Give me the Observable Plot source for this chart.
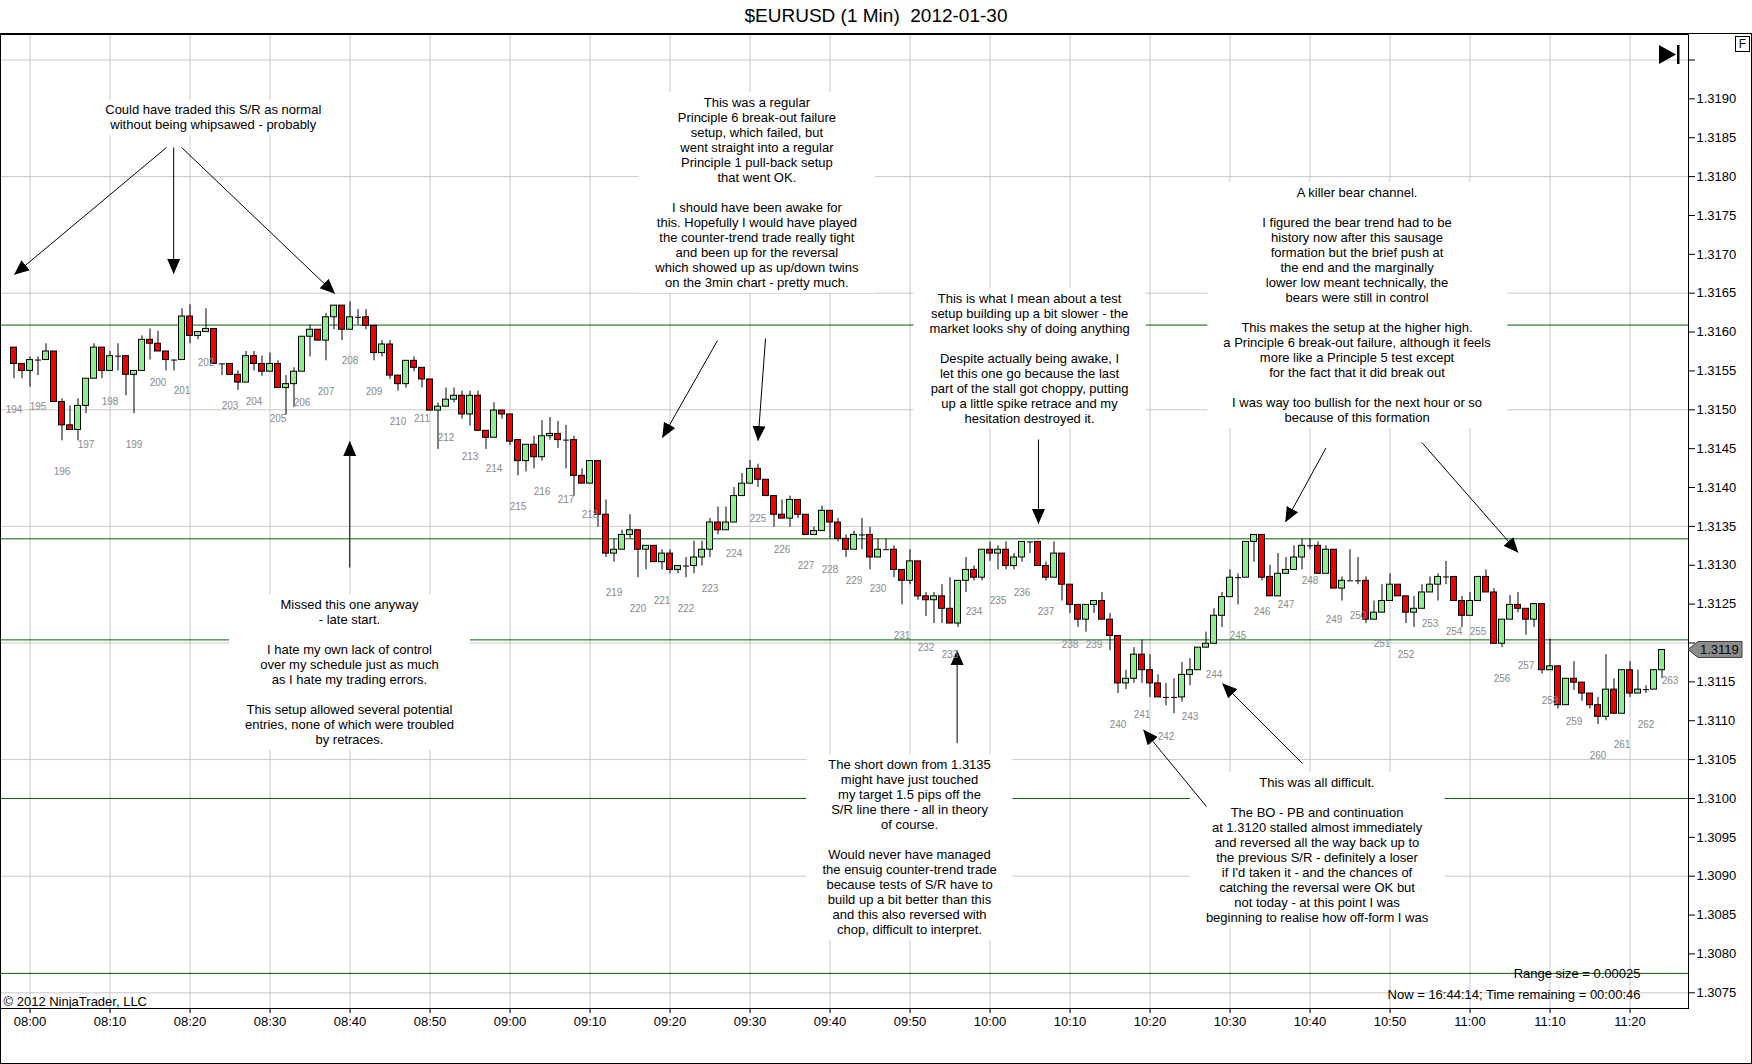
<!DOCTYPE html>
<html>
<head>
<meta charset="utf-8">
<script src="https://cdn.jsdelivr.net/npm/d3@7"></script>
<script src="https://cdn.jsdelivr.net/npm/@observablehq/plot@0.6"></script>
<style>
html,body{margin:0;padding:0;background:#fff;}
#wrap{position:relative;width:1752px;height:1064px;overflow:hidden;font-family:'Liberation Sans',Arial,Helvetica,sans-serif;}
#title{position:absolute;left:0;top:0;width:1752px;height:33px;line-height:32px;text-align:center;font-size:19px;color:#000;white-space:pre;}
#chart{position:absolute;left:0;top:33px;}
#border{position:absolute;left:0;top:33px;width:1752px;height:1031px;box-sizing:border-box;border:1px solid #000;pointer-events:none;}
</style>
</head>
<body>
<div id="wrap">
  <div id="title"></div>
  <div id="chart"></div>
  <div id="border"></div>
</div>
<script>
const titleText = "$EURUSD (1 Min)  2012-01-30";

// one-minute bars, index 0 = 07:58
const open = [
1.31580,1.31559,1.31550,1.31564,1.31564,1.31575,1.31510,1.31480,1.31474,1.31505,
1.31540,1.31580,1.31550,1.31569,1.31569,1.31545,1.31550,1.31590,1.31585,1.31575,
1.31564,1.31564,1.31620,1.31595,1.31600,1.31604,1.31559,1.31559,1.31545,1.31535,
1.31569,1.31559,1.31549,1.31559,1.31528,1.31533,1.31549,1.31594,1.31603,1.31589,
1.31619,1.31634,1.31603,1.31619,1.31619,1.31608,1.31573,1.31584,1.31544,1.31533,
1.31563,1.31554,1.31539,1.31499,1.31504,1.31513,1.31518,1.31494,1.31518,1.31473,
1.31464,1.31499,1.31494,1.31461,1.31434,1.31455,1.31439,1.31466,1.31469,1.31461,
1.31461,1.31415,1.31405,1.31434,1.31365,1.31315,1.31320,1.31339,1.31345,1.31320,
1.31325,1.31304,1.31315,1.31294,1.31299,1.31299,1.31310,1.31320,1.31355,1.31345,
1.31355,1.31389,1.31405,1.31424,1.31410,1.31389,1.31365,1.31360,1.31384,1.31365,
1.31339,1.31344,1.31370,1.31355,1.31334,1.31320,1.31339,1.31339,1.31310,1.31320,
1.31320,1.31294,1.31280,1.31305,1.31260,1.31255,1.31260,1.31244,1.31225,1.31280,
1.31294,1.31284,1.31320,1.31315,1.31320,1.31299,1.31310,1.31330,1.31330,1.31299,
1.31284,1.31315,1.31275,1.31249,1.31230,1.31249,1.31254,1.31230,1.31209,1.31148,
1.31154,1.31185,1.31165,1.31148,1.31130,1.31130,1.31130,1.31159,1.31165,1.31194,
1.31199,1.31235,1.31259,1.31284,1.31284,1.31330,1.31339,1.31285,1.31260,1.31289,
1.31294,1.31310,1.31325,1.31325,1.31289,1.31320,1.31270,1.31280,1.31280,1.31280,
1.31230,1.31239,1.31254,1.31275,1.31260,1.31239,1.31244,1.31265,1.31275,1.31285,
1.31285,1.31254,1.31235,1.31254,1.31285,1.31265,1.31199,1.31230,1.31249,1.31244,
1.31230,1.31250,1.31165,1.31170,1.31120,1.31154,1.31149,1.31135,1.31120,1.31105,
1.31140,1.31109,1.31165,1.31135,1.31140,1.31140,1.31165];
const high = [
1.31580,1.31559,1.31568,1.31568,1.31585,1.31575,1.31514,1.31505,1.31514,1.31540,
1.31585,1.31580,1.31575,1.31585,1.31569,1.31550,1.31595,1.31604,1.31601,1.31575,
1.31564,1.31630,1.31635,1.31600,1.31630,1.31604,1.31559,1.31559,1.31550,1.31575,
1.31575,1.31569,1.31573,1.31563,1.31544,1.31554,1.31594,1.31609,1.31603,1.31624,
1.31634,1.31634,1.31639,1.31629,1.31629,1.31608,1.31589,1.31589,1.31544,1.31563,
1.31568,1.31554,1.31539,1.31509,1.31528,1.31528,1.31524,1.31524,1.31524,1.31473,
1.31509,1.31499,1.31494,1.31461,1.31455,1.31466,1.31486,1.31490,1.31485,1.31480,
1.31466,1.31424,1.31434,1.31434,1.31384,1.31334,1.31345,1.31365,1.31345,1.31325,
1.31325,1.31320,1.31320,1.31299,1.31310,1.31331,1.31331,1.31360,1.31375,1.31375,
1.31400,1.31418,1.31435,1.31430,1.31410,1.31389,1.31384,1.31389,1.31384,1.31365,
1.31349,1.31376,1.31370,1.31360,1.31339,1.31344,1.31360,1.31349,1.31334,1.31334,
1.31325,1.31294,1.31320,1.31305,1.31265,1.31265,1.31275,1.31284,1.31280,1.31310,
1.31299,1.31320,1.31330,1.31325,1.31330,1.31315,1.31330,1.31330,1.31330,1.31304,
1.31330,1.31315,1.31275,1.31249,1.31249,1.31254,1.31265,1.31238,1.31209,1.31165,
1.31194,1.31204,1.31185,1.31159,1.31148,1.31154,1.31175,1.31180,1.31194,1.31214,
1.31244,1.31265,1.31294,1.31289,1.31330,1.31339,1.31339,1.31300,1.31315,1.31310,
1.31325,1.31334,1.31334,1.31330,1.31325,1.31320,1.31285,1.31320,1.31310,1.31285,
1.31254,1.31275,1.31289,1.31275,1.31260,1.31260,1.31275,1.31285,1.31289,1.31305,
1.31285,1.31260,1.31265,1.31285,1.31294,1.31270,1.31230,1.31261,1.31265,1.31244,
1.31250,1.31250,1.31205,1.31170,1.31154,1.31176,1.31149,1.31135,1.31130,1.31185,
1.31154,1.31165,1.31176,1.31165,1.31145,1.31165,1.31191];
const low = [
1.31540,1.31540,1.31529,1.31544,1.31564,1.31510,1.31460,1.31474,1.31460,1.31495,
1.31540,1.31540,1.31550,1.31550,1.31518,1.31495,1.31550,1.31564,1.31575,1.31550,
1.31550,1.31564,1.31585,1.31590,1.31600,1.31559,1.31544,1.31545,1.31525,1.31535,
1.31550,1.31543,1.31549,1.31528,1.31493,1.31503,1.31549,1.31568,1.31589,1.31563,
1.31603,1.31589,1.31603,1.31609,1.31603,1.31563,1.31568,1.31539,1.31524,1.31528,
1.31549,1.31528,1.31499,1.31449,1.31504,1.31509,1.31488,1.31479,1.31473,1.31449,
1.31464,1.31488,1.31454,1.31415,1.31420,1.31424,1.31434,1.31461,1.31450,1.31424,
1.31389,1.31405,1.31405,1.31349,1.31310,1.31304,1.31320,1.31334,1.31284,1.31294,
1.31304,1.31294,1.31289,1.31289,1.31284,1.31289,1.31299,1.31310,1.31339,1.31345,
1.31355,1.31389,1.31405,1.31400,1.31389,1.31349,1.31360,1.31349,1.31360,1.31339,
1.31339,1.31344,1.31334,1.31330,1.31310,1.31320,1.31320,1.31294,1.31310,1.31320,
1.31284,1.31249,1.31275,1.31255,1.31234,1.31225,1.31225,1.31225,1.31220,1.31265,
1.31280,1.31280,1.31305,1.31294,1.31294,1.31294,1.31304,1.31315,1.31299,1.31280,
1.31284,1.31254,1.31238,1.31220,1.31214,1.31238,1.31230,1.31190,1.31135,1.31140,
1.31148,1.31148,1.31130,1.31130,1.31119,1.31109,1.31124,1.31145,1.31165,1.31194,
1.31199,1.31220,1.31259,1.31249,1.31284,1.31304,1.31280,1.31260,1.31260,1.31289,
1.31294,1.31294,1.31320,1.31289,1.31289,1.31270,1.31254,1.31280,1.31275,1.31225,
1.31230,1.31239,1.31254,1.31260,1.31225,1.31220,1.31244,1.31265,1.31254,1.31275,
1.31254,1.31220,1.31235,1.31254,1.31265,1.31199,1.31194,1.31230,1.31239,1.31210,
1.31220,1.31160,1.31165,1.31115,1.31120,1.31139,1.31125,1.31115,1.31095,1.31100,
1.31109,1.31109,1.31130,1.31135,1.31135,1.31140,1.31154];
const close = [
1.31559,1.31550,1.31564,1.31564,1.31575,1.31510,1.31480,1.31474,1.31505,1.31540,
1.31580,1.31550,1.31569,1.31569,1.31545,1.31550,1.31590,1.31585,1.31575,1.31564,
1.31564,1.31620,1.31595,1.31600,1.31604,1.31559,1.31559,1.31545,1.31535,1.31569,
1.31559,1.31549,1.31559,1.31528,1.31533,1.31549,1.31594,1.31603,1.31589,1.31619,
1.31634,1.31603,1.31619,1.31619,1.31608,1.31573,1.31584,1.31544,1.31533,1.31563,
1.31554,1.31539,1.31499,1.31504,1.31513,1.31518,1.31494,1.31518,1.31473,1.31464,
1.31499,1.31494,1.31459,1.31434,1.31455,1.31439,1.31466,1.31469,1.31461,1.31461,
1.31415,1.31405,1.31434,1.31365,1.31315,1.31320,1.31339,1.31345,1.31320,1.31325,
1.31304,1.31315,1.31294,1.31299,1.31299,1.31310,1.31320,1.31355,1.31345,1.31355,
1.31389,1.31405,1.31424,1.31410,1.31389,1.31365,1.31360,1.31384,1.31365,1.31339,
1.31344,1.31370,1.31355,1.31334,1.31320,1.31339,1.31339,1.31310,1.31320,1.31320,
1.31294,1.31280,1.31305,1.31260,1.31255,1.31260,1.31244,1.31225,1.31280,1.31294,
1.31284,1.31320,1.31315,1.31320,1.31299,1.31310,1.31330,1.31330,1.31299,1.31284,
1.31315,1.31275,1.31249,1.31230,1.31249,1.31254,1.31230,1.31209,1.31148,1.31154,
1.31185,1.31165,1.31148,1.31130,1.31130,1.31130,1.31159,1.31165,1.31194,1.31199,
1.31235,1.31259,1.31284,1.31284,1.31330,1.31339,1.31284,1.31260,1.31289,1.31294,
1.31310,1.31325,1.31325,1.31289,1.31320,1.31270,1.31280,1.31280,1.31280,1.31230,
1.31239,1.31254,1.31275,1.31260,1.31239,1.31244,1.31265,1.31275,1.31285,1.31285,
1.31254,1.31235,1.31254,1.31285,1.31265,1.31199,1.31230,1.31249,1.31244,1.31230,
1.31250,1.31165,1.31170,1.31120,1.31154,1.31149,1.31135,1.31120,1.31105,1.31140,
1.31109,1.31165,1.31135,1.31140,1.31140,1.31165,1.31191];

// bar counter labels shown every third bar
const barLabelNumbers = [194,195,196,197,198,199,200,201,202,203,204,205,206,207,208,209,210,211,212,213,
214,215,216,217,218,219,220,221,222,223,224,225,226,227,228,229,230,231,232,233,234,235,236,237,238,239,
240,241,242,243,244,245,246,247,248,249,250,251,252,253,254,255,256,257,258,259,260,261,262,263];
const firstLabelNumber = 194;
const barsPerLabel = 3;

// time axis
const timeTickBars = [2,12,22,32,42,52,62,72,82,92,102,112,122,132,142,152,162,172,182,192,202];
const timeLabels = ["08:00","08:10","08:20","08:30","08:40","08:50","09:00","09:10","09:20","09:30",
  "09:40","09:50","10:00","10:10","10:20","10:30","10:40","10:50","11:00","11:10","11:20"];

// price axis (1.3195 has no label; 1.3120 is covered by the last-price tag)
const yTicks = [1.3075,1.3080,1.3085,1.3090,1.3095,1.3100,1.3105,1.3110,1.3115,1.3120,1.3125,1.3130,
  1.3135,1.3140,1.3145,1.3150,1.3155,1.3160,1.3165,1.3170,1.3175,1.3180,1.3185,1.3190,1.3195];
const yTickHidden = [1.3195, 1.3120];
const gridPrices = [1.3075,1.3090,1.3105,1.3120,1.3135,1.3150,1.3165,1.3180,1.3195];
const srLevels = [1.31609,1.31334,1.31204,1.31000,1.30775];
const lastPrice = 1.31191;
const lastPriceLabel = "1.3119";

// annotations (centre of text block, in bar index / price)
const annText = [
"Could have traded this S/R as normal\nwithout being whipsawed - probably",
"This was a regular\nPrinciple 6 break-out failure\nsetup, which failed, but\nwent straight into a regular\nPrinciple 1 pull-back setup\nthat went OK.\n\nI should have been awake for\nthis. Hopefully I would have played\nthe counter-trend trade really tight\nand been up for the reversal\nwhich showed up as up/down twins\non the 3min chart - pretty much.",
"This is what I mean about a test\nsetup building up a bit slower - the\nmarket looks shy of doing anything\n\nDespite actually being awake, I\nlet this one go because the last\npart of the stall got choppy, putting\nup a little spike retrace and my\nhesitation destroyed it.",
"A killer bear channel.\n\nI figured the bear trend had to be\nhistory now after this sausage\nformation but the brief push at\nthe end and the marginally\nlower low meant technically, the\nbears were still in control\n\nThis makes the setup at the higher high.\na Principle 6 break-out failure, although it feels\nmore like a Principle 5 test except\nfor the fact that it did break out\n\nI was way too bullish for the next hour or so\nbecause of this formation",
"Missed this one anyway\n- late start.\n\nI hate my own lack of control\nover my schedule just as much\nas I hate my trading errors.\n\nThis setup allowed several potential\nentries, none of which were troubled\nby retraces.",
"The short down from 1.3135\nmight have just touched\nmy target 1.5 pips off the\nS/R line there - all in theory\nof course.\n\nWould never have managed\nthe ensuig counter-trend trade\nbecause tests of S/R have to\nbuild up a bit better than this\nand this also reversed with\nchop, difficult to interpret.",
"This was all difficult.\n\nThe BO - PB and continuation\nat 1.3120 stalled almost immediately\nand reversed all the way back up to\nthe previous S/R - definitely a loser\nif I'd taken it - and the chances of\ncatching the reversal were OK but\nnot today - at this point I was\nbeginning to realise how off-form I was"
];
const annBar = [24.91, 92.86, 126.94, 167.88, 41.93, 111.94, 162.88];
const annPrice = [1.318767, 1.317799, 1.315669, 1.316351, 1.311631, 1.309375, 1.309341];

// arrows: from (bar1, price1) to (bar2, price2)
const arrowBar1   = [19.06, 19.96, 20.95, 87.94, 93.94, 128.06, 163.99, 175.99, 41.97, 117.89, 149.06, 161.06];
const arrowPrice1 = [1.318374, 1.318374, 1.318374, 1.315892, 1.315917, 1.314618, 1.314508, 1.314579, 1.312971, 1.310711, 1.309896, 1.310450];
const arrowBar2   = [0.06, 19.96, 40.08, 81.06, 93.00, 128.06, 158.94, 187.99, 41.97, 117.89, 141.19, 151.06];
const arrowPrice2 = [1.316741, 1.316754, 1.316496, 1.314644, 1.314605, 1.313537, 1.313558, 1.313167, 1.314592, 1.311903, 1.310881, 1.311479];

const copyrightText = "\u00A9 2012 NinjaTrader, LLC";
const rangeText = "Range size = 0.00025";
const nowText = "Now = 16:44:14; Time remaining = 00:00:46";

const upColor = "#90ee90", downColor = "#f00000", gridColor = "#c8c8c8", srColor = "#006400", labelColor = "#8a8a8a";
const FONT = "'Liberation Sans', Arial, Helvetica, sans-serif";

// ---- tables built from the arrays ----
const bars = open.map((o, i) => ({k: i, o, h: high[i], l: low[i], c: close[i]}));
const bodies = bars.filter(d => d.c !== d.o);
const dojis = bars.filter(d => d.c === d.o);
const barLabels = barLabelNumbers.map(n => {
  const k = (n - firstLabelNumber) * barsPerLabel;
  return {k, p: k < low.length ? low[k] : close[close.length - 1], t: String(n)};
});
const annotations = annText.map((t, i) => ({text: t, k: annBar[i], p: annPrice[i]}));
const arrows = arrowBar1.map((b, i) => ({x1: b, y1: arrowPrice1[i], x2: arrowBar2[i], y2: arrowPrice2[i]}));

document.getElementById("title").textContent = titleText;

const half = 0.375;
const svg = Plot.plot({
  width: 1752, height: 1031,
  marginLeft: 0, marginRight: 64, marginTop: 1, marginBottom: 56,
  style: {fontFamily: FONT, fontSize: "13px", background: "transparent", color: "#000"},
  x: {type: "linear", domain: [-1.6875, 209.3125], axis: null, label: null},
  y: {type: "linear", domain: [1.307298, 1.319828], axis: null, label: null},
  marks: [
    Plot.ruleX(timeTickBars, {stroke: gridColor}),
    Plot.ruleY(gridPrices, {stroke: gridColor}),
    Plot.ruleY(srLevels, {stroke: srColor}),
    Plot.text(annotations, {x: "k", y: "p", text: "text", fontSize: 13, lineHeight: 15/13,
      lineAnchor: "middle", textAnchor: "middle", fill: "#000", ariaDescription: "annotations"}),
    Plot.link(arrows, {x1: "x1", y1: "y1", x2: "x2", y2: "y2", stroke: "#000", strokeWidth: 1, ariaDescription: "arrows"}),
    Plot.ruleX(bars, {x: "k", y1: "l", y2: "h", stroke: "#000", strokeWidth: 1}),
    Plot.rect(bodies, {x1: d => d.k - half, x2: d => d.k + half, y1: "o", y2: "c",
      fill: d => d.c > d.o ? upColor : downColor, stroke: "#000", strokeWidth: 1}),
    Plot.link(dojis, {x1: d => d.k - half, x2: d => d.k + half, y1: "o", y2: "o", stroke: "#000", strokeWidth: 1}),
    Plot.text(barLabels, {x: "k", y: "p", text: "t", dy: 31, fontSize: 10, fill: labelColor, lineAnchor: "middle"}),
    Plot.axisX({ticks: timeTickBars, tickFormat: (d, i) => timeLabels[i], tickSize: 5, tickPadding: 3, fontSize: 13, label: null}),
    Plot.axisY({anchor: "right", ticks: yTicks, tickFormat: d => yTickHidden.includes(d) ? "" : d.toFixed(4),
      tickSize: 6, tickPadding: 2, fontSize: 13, label: null}),
    Plot.frame({stroke: "#000"}),
    Plot.text([copyrightText], {frameAnchor: "bottom-left", dx: 3, dy: -7, textAnchor: "start", lineAnchor: "middle", fontSize: 13}),
    Plot.text([rangeText], {frameAnchor: "bottom-right", dx: -48, dy: -35, textAnchor: "end", lineAnchor: "middle", fontSize: 13}),
    Plot.text([nowText], {frameAnchor: "bottom-right", dx: -48, dy: -14, textAnchor: "end", lineAnchor: "middle", fontSize: 13})
  ]
});
document.getElementById("chart").append(svg);

// ---- decorations ----
const ns = "http://www.w3.org/2000/svg";
function el(tag, attrs, parent) {
  const e = document.createElementNS(ns, tag);
  for (const k in attrs) e.setAttribute(k, attrs[k]);
  if (parent) parent.appendChild(e);
  return e;
}
// white boxes behind annotation text
const annG = svg.querySelector('g[aria-description="annotations"]');
if (annG) {
  const boxG = el("g", {});
  if (annG.getAttribute("transform")) boxG.setAttribute("transform", annG.getAttribute("transform"));
  annG.querySelectorAll("text").forEach(t => {
    const b = t.getBBox();
    const r = el("rect", {x: b.x - 16, y: b.y - 3, width: b.width + 32, height: b.height + 6, fill: "#fff"}, boxG);
    if (t.getAttribute("transform")) r.setAttribute("transform", t.getAttribute("transform"));
  });
  annG.parentNode.insertBefore(boxG, annG);
}
// arrow heads
const defs = el("defs", {});
svg.insertBefore(defs, svg.firstChild);
const marker = el("marker", {id: "ahead", markerUnits: "userSpaceOnUse", markerWidth: 15, markerHeight: 14,
  viewBox: "0 0 15 14", refX: 14.5, refY: 7, orient: "auto"}, defs);
el("path", {d: "M0,0.5L15,7L0,13.5Z", fill: "#000"}, marker);
svg.querySelectorAll('g[aria-description="arrows"] path, g[aria-description="arrows"] line')
  .forEach(p => p.setAttribute("marker-end", "url(#ahead)"));

// last price tag on the price axis
const yS = svg.scale("y"), xS = svg.scale("x");
const ax = xS.range[1];
const py = yS.apply(lastPrice);
const tag = el("g", {}, svg);
el("path", {d: `M${ax},${py}L${ax + 10},${py - 8}L${ax + 54},${py - 8}L${ax + 54},${py + 8}L${ax + 10},${py + 8}Z`,
  fill: "#8c8c8c", stroke: "#404040", "stroke-width": 1}, tag);
const tt = el("text", {x: ax + 12, y: py, dy: "0.35em", "text-anchor": "start", fill: "#000", "font-size": 13, "font-family": FONT}, tag);
tt.textContent = lastPriceLabel;

// "go to end" icon and "F" box
const yTop = yS.range[1];
const icon = el("g", {}, svg);
el("path", {d: `M${ax - 29},${yTop + 11}L${ax - 29},${yTop + 30}L${ax - 12},${yTop + 20.5}Z`, fill: "#000"}, icon);
el("rect", {x: ax - 11, y: yTop + 11, width: 2.5, height: 19, fill: "#000"}, icon);
el("rect", {x: 1735.5, y: yTop + 2.5, width: 14, height: 15, fill: "#fff", stroke: "#000"}, icon);
const ft = el("text", {x: 1742.5, y: yTop + 10, dy: "0.35em", "text-anchor": "middle", fill: "#000", "font-size": 12, "font-family": FONT}, icon);
ft.textContent = "F";
</script>
</body>
</html>
